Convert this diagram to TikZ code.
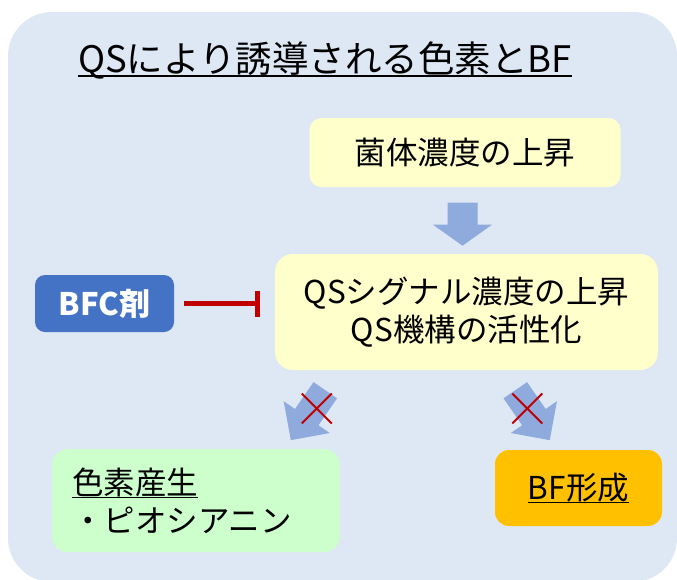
\documentclass[tikz,border=0pt]{standalone}
\usepackage{fontspec}
\setmainfont{Noto Sans CJK JP}
\usetikzlibrary{arrows.meta,calc}
\definecolor{bgblue}{HTML}{DEE8F4}
\definecolor{boxyellow}{HTML}{FFFFCC}
\definecolor{boxgreen}{HTML}{CCFFCC}
\definecolor{boxorange}{HTML}{FFC000}
\definecolor{boxblue}{HTML}{4472C4}
\definecolor{arrowfill}{HTML}{8FAADC}
\definecolor{darkred}{HTML}{C00000}
\newcommand\myul[1]{\setbox0\hbox{#1}\rlap{\rule[-4pt]{\wd0}{1.6pt}}\box0}
\tikzset{
  box/.style={rounded corners=#1, inner sep=0pt, align=center, text=black},
  box/.default=14pt,
  big/.style={font=\fontsize{31.5}{38}\selectfont},
  vertarrow/.pic={\fill[arrowfill] (-15,0) -- (-15,-22) -- (-29.5,-22) -- (0,-43) -- (29.5,-22) -- (15,-22) -- (15,0) -- cycle;},
  diagarrow/.pic={\fill[arrowfill] (-14.3,0) -- (-14.3,-32.7) -- (-28,-32.7) -- (0,-60.7) -- (28,-32.7) -- (14.3,-32.7) -- (14.3,0) -- cycle;},
  crossmark/.pic={\draw[darkred, line width=2pt] (-15,15) -- (15,-15) (-15,-15) -- (15,15);},
  inhibit/.style={darkred, line width=5pt, -{Bar[width=26pt]}}
}
\begin{document}
\begin{tikzpicture}[x=1pt,y=1pt]
\useasboundingbox (0,0) rectangle (677,-579);
\fill[bgblue, rounded corners=44pt] (8,-12) rectangle (677,-582);
\node[anchor=base, inner sep=0pt, font=\fontsize{36.5}{44}\selectfont] (title) at (325,-72) {QSにより誘導される色素とBF};
\draw[line width=2pt] ([yshift=-4pt]title.base west) -- ([yshift=-4pt]title.base east);
\node[box=12pt, big, fill=boxyellow, minimum width=311pt, minimum height=69pt] (n1) at (465,-152.5) {菌体濃度の上昇};
\node[box=18pt, big, fill=boxyellow, minimum width=383pt, minimum height=116pt] (qs) at (466.5,-312) {QSシグナル濃度の上昇\\QS機構の活性化};
\node[box=10pt, fill=boxblue, text=white, font=\fontsize{31}{37}\selectfont\bfseries, minimum width=139pt, minimum height=57pt] (bfc) at (104.5,-303.5) {BFC剤};
\node[box=16pt, big, fill=boxgreen, minimum width=288pt, minimum height=103pt, text width=248pt, align=left] (pig) at (196,-500.5) {\myul{色素産生}\\・ピオシアニン};
\node[box=14pt, big, fill=boxorange, minimum width=167pt, minimum height=76pt] (bf) at (578.5,-488) {\myul{BF形成}};
\pic at ($(n1.south)+(-2.5,-15.5)$) {vertarrow};
\pic[rotate=-34.6] at ($(qs.south west)+(50.5,-20)$) {diagarrow};
\pic[rotate=34.6] at ($(qs.south west)+(240.5,-20)$) {diagarrow};
\pic at ($(qs.south west)+(42,-38.3)$) {crossmark};
\pic at ($(qs.south west)+(252.5,-38.3)$) {crossmark};
\draw[inhibit] ([xshift=10pt]bfc.east) -- ([xshift=-15pt]qs.west |- bfc.east);
\end{tikzpicture}
\end{document}
